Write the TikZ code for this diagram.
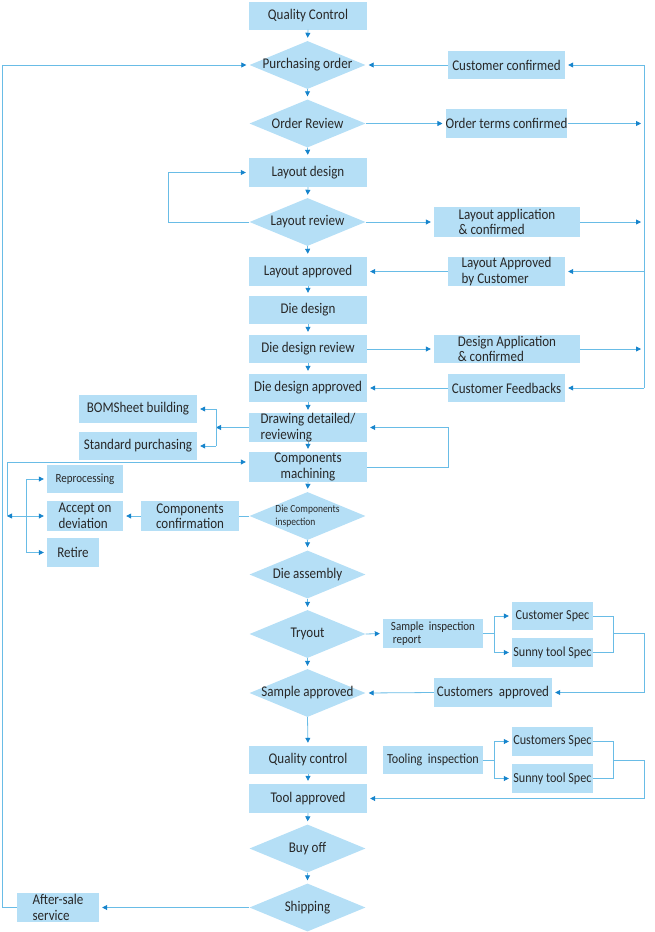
\documentclass[tikz,border=0pt]{standalone}
\usepackage{fontspec}
\setmainfont{Carlito}[FakeStretch=0.88]
\usetikzlibrary{arrows.meta,shapes.geometric,calc}
\definecolor{boxc}{RGB}{181,223,246}
\definecolor{linec}{RGB}{105,188,230}
\definecolor{tipc}{RGB}{22,132,204}
\definecolor{txtc}{RGB}{40,40,40}
\begin{document}
\begin{tikzpicture}[x=1pt,y=-1pt,
  every node/.style={text=txtc, font=\fontsize{14.8}{15.5}\selectfont},
  bx/.style={fill=boxc, inner sep=0pt, minimum width=118pt, minimum height=29pt},
  dia/.style={shape=diamond, fill=boxc, inner sep=0pt, minimum width=116pt, minimum height=48pt},
  ln/.style={draw=linec, line width=0.8pt},
  arr/.style={ln, -{Triangle[length=5pt,width=5pt,color=tipc]}, shorten >=3pt},
  sm/.style={font=\fontsize{12.5}{13.5}\selectfont},
  md/.style={font=\fontsize{13.8}{15}\selectfont},
]
\useasboundingbox (0,0) rectangle (654,932);
% main column
\node[bx, minimum height=28pt] (qc) at (308,15.5) {Quality Control};
\node[dia] (po) at (307.5,65) {\makebox[0pt]{Purchasing order}};
\node[dia] (or) at (307.5,123.5) {\makebox[0pt]{Order Review}};
\node[bx] (ld) at (308,172.5) {Layout design};
\node[dia] (lr) at (307.5,222) {\makebox[0pt]{Layout review}};
\node[bx] (la) at (308,271.5) {Layout approved};
\node[bx, minimum height=28pt] (dd) at (308,310) {Die design};
\node[bx, minimum height=28pt] (ddr) at (308,349) {Die design review};
\node[bx, minimum height=28pt] (dda) at (308,388) {Die design approved};
\node[bx, align=left] (dr) at (308,427.5) {Drawing detailed/\\reviewing};
\node[bx, minimum height=30pt, align=center] (cm) at (308,467) {Components\\machining};
\node[dia] (dci) at (307.5,516) {\makebox[0pt]{\fontsize{10.8}{13}\selectfont\begin{tabular}{@{}l@{}}Die Components\\inspection\end{tabular}}};
\node[dia] (da) at (307.5,574.5) {\makebox[0pt]{Die assembly}};
\node[dia] (try) at (307.5,634) {\makebox[0pt]{Tryout}};
\node[dia] (sa) at (307.5,693) {\makebox[0pt]{Sample approved}};
\node[bx, minimum height=28pt] (qc2) at (308,760) {Quality control};
\node[bx] (ta) at (308,798.5) {Tool approved};
\node[dia] (bo) at (307.5,848.5) {\makebox[0pt]{Buy off}};
\node[dia] (sh) at (307.5,907.5) {\makebox[0pt]{Shipping}};
% right column
\node[bx, minimum width=117pt, minimum height=28pt] (cc) at (506.5,65) {Customer confirmed};
\node[bx, minimum width=117pt] (otc) at (506.5,123.5) {Order terms confirmed};
\node[bx, minimum width=146pt, minimum height=30pt, align=left] (lac) at (507,222) {Layout application\\\& confirmed};
\node[bx, minimum width=117pt, align=left] (labc) at (506.5,271.5) {Layout Approved\\by Customer};
\node[bx, minimum width=146pt, minimum height=28pt, align=left] (dac) at (507,349) {Design Application\\\& confirmed};
\node[bx, minimum width=117pt, minimum height=28pt] (cf) at (506.5,388) {Customer Feedbacks};
\node[bx, minimum width=100pt, align=left, sm] (sir) at (433,633.5) {Sample~~inspection\\\hspace{2pt}report};
\node[bx, minimum width=81pt, minimum height=28pt, md] (cs) at (552.5,616) {Customer Spec};
\node[bx, minimum width=81pt, md] (sts) at (552.5,652.5) {Sunny tool Spec};
\node[bx, minimum width=118pt] (cap) at (493,692.5) {Customers~~approved};
\node[bx, minimum width=100pt, minimum height=28pt, md] (ti) at (433,760) {Tooling~~inspection};
\node[bx, minimum width=81pt, md] (cs2) at (552.5,741.5) {Customers Spec};
\node[bx, minimum width=81pt, md] (sts2) at (552.5,778.5) {Sunny tool Spec};
% left column
\node[bx, minimum height=28pt] (bom) at (138,409) {BOMSheet building};
\node[bx, minimum height=28pt] (sp) at (138,446) {Standard purchasing};
\node[bx, minimum width=76pt, minimum height=28pt, sm] (rep) at (85,479) {Reprocessing};
\node[bx, minimum width=76pt, minimum height=30pt, align=left] (aod) at (85,516) {Accept on\\deviation};
\node[bx, minimum width=52pt] (ret) at (73,552.5) {Retire};
\node[bx, minimum width=98pt, minimum height=30pt, align=center] (ccf) at (190,516) {Components\\confirmation};
\node[bx, minimum width=82pt, align=left] (as) at (58,907.5) {After-sale\\service};
% coordinates
\coordinate (rtop) at (644,65);
\coordinate (rbot) at (644,388);
\coordinate (lpl) at (168,0);
\coordinate (bj) at (216,0);
\coordinate (cmx) at (448,0);
\coordinate (jx) at (26,516);
\coordinate (jl) at (7,516);
\coordinate (tj) at (494,0);
\coordinate (tr) at (613,0);
\coordinate (lx) at (2,0);
% main chain
\foreach \a/\b in {qc/po,po/or,or/ld,ld/lr,lr/la,la/dd,dd/ddr,ddr/dda,dda/dr,dr/cm,cm/dci,dci/da,da/try,try/sa,sa/qc2,qc2/ta,ta/bo,bo/sh}
  \draw[arr] (\a.south) -- (\b.north);
% right rail
\draw[ln] (rtop) -- (rbot);
\draw[arr] (rtop) -- (cc.east);
\draw[arr] (cc.west) -- (po.east);
\draw[arr] (or.east) -- (otc.west);
\draw[arr] (otc.east) -- (otc.east -| rtop);
\draw[arr] (lr.east) -- (lac.west);
\draw[arr] (lac.east) -- (lac.east -| rtop);
\draw[arr] (labc.east -| rtop) -- (labc.east);
\draw[arr] (labc.west) -- (la.east);
\draw[arr] (ddr.east) -- (dac.west);
\draw[arr] (dac.east) -- (dac.east -| rtop);
\draw[arr] (rbot) -- (cf.east);
\draw[arr] (cf.west) -- (dda.east);
% layout loop
\draw[arr] (lr.west) -- (lr.west -| lpl) |- (ld.west);
% drawing branch
\draw[arr, shorten >=0pt] (dr.west) -- (dr.west -| bj);
\draw[ln] (bom.east -| bj) -- (sp.east -| bj);
\draw[arr] (bom.east -| bj) -- (bom.east);
\draw[arr] (sp.east -| bj) -- (sp.east);
% components machining loop
\draw[arr] (cm.east) -- (cm.east -| cmx) |- (dr.east);
% left junction
\draw[arr, shorten >=0pt] (jx) -- (jl);
\draw[arr] (jl) |- ([yshift=5pt]cm.west);
\draw[ln] (rep.west -| jx) -- (ret.west -| jx);
\draw[arr] (rep.west -| jx) -- (rep.west);
\draw[arr] (jx) -- (aod.west);
\draw[arr] (ret.west -| jx) -- (ret.west);
\draw[ln] (dci.west) -- (ccf.east);
\draw[arr] (ccf.west) -- (aod.east);
% tryout branch
\draw[arr] (try.east) -- (sir.west);
\draw[ln] (sir.east) -- (sir.east -| tj);
\draw[ln] (cs.west -| tj) -- (sts.west -| tj);
\draw[arr] (cs.west -| tj) -- (cs.west);
\draw[arr] (sts.west -| tj) -- (sts.west);
\draw[ln] (cs.east) -- (cs.east -| tr) -- (sts.east -| tr) -- (sts.east);
\draw[arr] (sir.east -| tr) -- (sir.east -| rtop) |- (cap.east);
\draw[arr] (cap.west) -- (sa.east);
% tooling branch
\draw[ln] (ti.east) -- (ti.east -| tj);
\draw[ln] (cs2.west -| tj) -- (sts2.west -| tj);
\draw[arr] (cs2.west -| tj) -- (cs2.west);
\draw[arr] (sts2.west -| tj) -- (sts2.west);
\draw[ln] (cs2.east) -- (cs2.east -| tr) -- (sts2.east -| tr) -- (sts2.east);
\draw[arr] (ti.east -| tr) -- (ti.east -| rtop) |- (ta.east);
% shipping / after-sale
\draw[arr] (sh.west) -- (as.east);
\draw[arr] (as.west) -- (as.west -| lx) |- (po.west);
\end{tikzpicture}
\end{document}
